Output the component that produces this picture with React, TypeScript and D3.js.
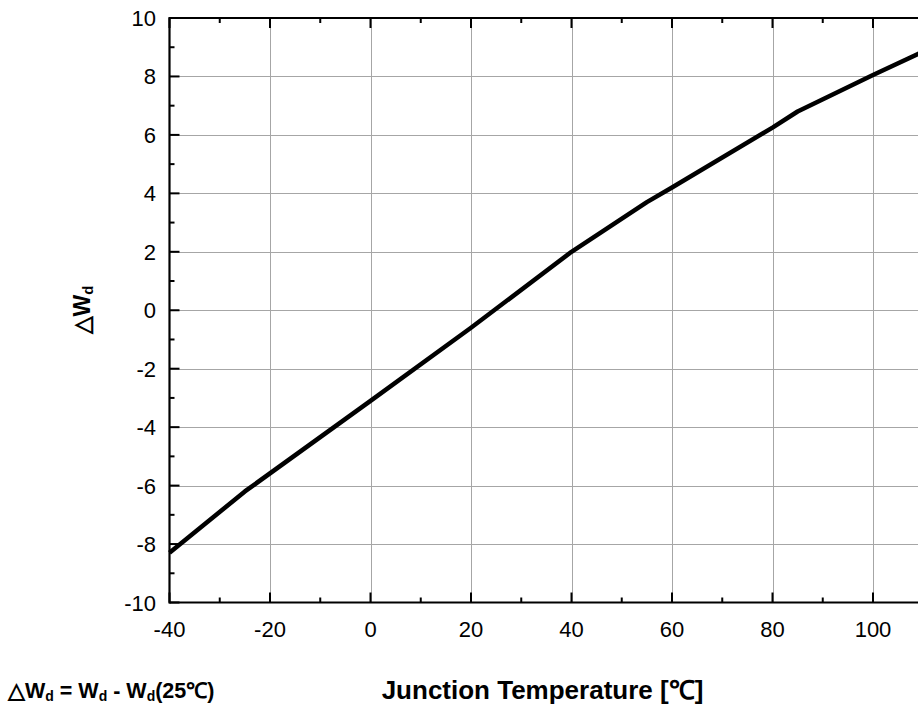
import { useEffect, useRef } from "react"
import * as d3 from "d3"

// junction temperature (°C) vs ΔWd
const temps = [-40, -25, 0, 20, 40, 55, 60, 80, 85, 100, 110]
const deltaWd = [-8.3, -6.2, -3.1, -0.6, 2.0, 3.7, 4.2, 6.25, 6.8, 8.05, 8.85]

const xMajor = [-40, -20, 0, 20, 40, 60, 80, 100]
const xMinor = [-30, -10, 10, 30, 50, 70, 90]
const yMajor = [-10, -8, -6, -4, -2, 0, 2, 4, 6, 8, 10]
const yMinor = [-9, -7, -5, -3, -1, 1, 3, 5, 7, 9]
const xGrid = [-20, 0, 20, 40, 60, 80, 100]
const yGrid = [-8, -6, -4, -2, 0, 2, 4, 6, 8]

const FONT = "'Liberation Sans', Arial, Helvetica, sans-serif"

export default function App() {
  const svgRef = useRef<SVGSVGElement>(null)

  useEffect(() => {
    if (!svgRef.current) return
    const svg = d3.select(svgRef.current)
    svg.selectAll("*").remove()

    const width = 918
    const height = 710
    const left = 169.5
    const top = 18
    const bottom = 602.5
    const pxPerUnit = 5.025

    const x = d3.scaleLinear().domain([-40, 110]).range([left, left + 150 * pxPerUnit])
    const y = d3.scaleLinear().domain([-10, 10]).range([bottom, top])

    svg.attr("width", width).attr("height", height)

    svg.append("rect").attr("width", width).attr("height", height).attr("fill", "#fff")

    const g = svg.append("g")

    // grid
    g.append("g")
      .selectAll("line")
      .data(xGrid)
      .join("line")
      .attr("x1", d => Math.round(x(d)) + 0.5)
      .attr("x2", d => Math.round(x(d)) + 0.5)
      .attr("y1", top)
      .attr("y2", bottom)
      .attr("stroke", "#a6a6a6")
      .attr("stroke-width", 1)

    g.append("g")
      .selectAll("line")
      .data(yGrid)
      .join("line")
      .attr("x1", left)
      .attr("x2", width)
      .attr("y1", d => Math.round(y(d)) + 0.5)
      .attr("y2", d => Math.round(y(d)) + 0.5)
      .attr("stroke", "#a6a6a6")
      .attr("stroke-width", 1)

    // curve
    const line = d3.line<number>()
      .x((_, i) => x(temps[i]))
      .y(d => y(d))

    g.append("path")
      .datum(deltaWd)
      .attr("d", line)
      .attr("fill", "none")
      .attr("stroke", "#000")
      .attr("stroke-width", 4.5)
      .attr("stroke-linejoin", "round")

    // frame lines
    g.append("line")
      .attr("x1", left).attr("x2", width)
      .attr("y1", bottom).attr("y2", bottom)
      .attr("stroke", "#000").attr("stroke-width", 2.2)
    g.append("line")
      .attr("x1", left).attr("x2", width)
      .attr("y1", top).attr("y2", top)
      .attr("stroke", "#000").attr("stroke-width", 2)
    g.append("line")
      .attr("x1", left).attr("x2", left)
      .attr("y1", top - 1).attr("y2", bottom + 1)
      .attr("stroke", "#000").attr("stroke-width", 2.2)

    // ticks (inward)
    const tickG = g.append("g").attr("stroke", "#000").attr("stroke-width", 2)
    const xTicks = [...xMajor.map(v => ({ v, len: 10 })), ...xMinor.map(v => ({ v, len: 5 }))]
    xTicks.forEach(t => {
      tickG.append("line")
        .attr("x1", x(t.v)).attr("x2", x(t.v))
        .attr("y1", bottom).attr("y2", bottom - t.len)
      tickG.append("line")
        .attr("x1", x(t.v)).attr("x2", x(t.v))
        .attr("y1", top).attr("y2", top + t.len)
    })
    const yTicks = [...yMajor.map(v => ({ v, len: 10 })), ...yMinor.map(v => ({ v, len: 5 }))]
    yTicks.forEach(t => {
      tickG.append("line")
        .attr("x1", left).attr("x2", left + t.len)
        .attr("y1", y(t.v)).attr("y2", y(t.v))
    })

    // tick labels
    g.append("g")
      .selectAll("text")
      .data(xMajor)
      .join("text")
      .attr("x", d => x(d))
      .attr("y", 637)
      .attr("text-anchor", "middle")
      .style("font-family", FONT)
      .style("font-size", "22px")
      .text(d => String(d))

    g.append("g")
      .selectAll("text")
      .data(yMajor)
      .join("text")
      .attr("x", 156)
      .attr("y", d => y(d) + 8)
      .attr("text-anchor", "end")
      .style("font-family", FONT)
      .style("font-size", "22px")
      .text(d => String(d))

    // y title
    const yt = svg.append("text")
      .attr("transform", "translate(90,310) rotate(-90)")
      .attr("text-anchor", "middle")
      .style("font-family", FONT)
      .style("font-size", "23px")
      .style("font-weight", "bold")
    yt.append("tspan").text("△W")
    yt.append("tspan").attr("dy", 3).style("font-size", "15px").text("d")

    // x title
    svg.append("text")
      .attr("x", 542.5)
      .attr("y", 699)
      .attr("text-anchor", "middle")
      .style("font-family", FONT)
      .style("font-size", "26px")
      .style("font-weight", "bold")
      .text("Junction Temperature [℃]")

    // formula note
    const ft = svg.append("text")
      .attr("x", 8)
      .attr("y", 698)
      .style("font-family", FONT)
      .style("font-size", "21.5px")
      .style("font-weight", "bold")
    ft.append("tspan").text("△W")
    ft.append("tspan").attr("dy", 3).style("font-size", "14px").text("d")
    ft.append("tspan").attr("dy", -3).text(" = W")
    ft.append("tspan").attr("dy", 3).style("font-size", "14px").text("d")
    ft.append("tspan").attr("dy", -3).text(" - W")
    ft.append("tspan").attr("dy", 3).style("font-size", "14px").text("d")
    ft.append("tspan").attr("dy", -3).text("(25℃)")
  }, [])

  return (
    <svg
      ref={svgRef}
      style={{ position: "absolute", left: 0, top: 0, display: "block" }}
    />
  )
}
